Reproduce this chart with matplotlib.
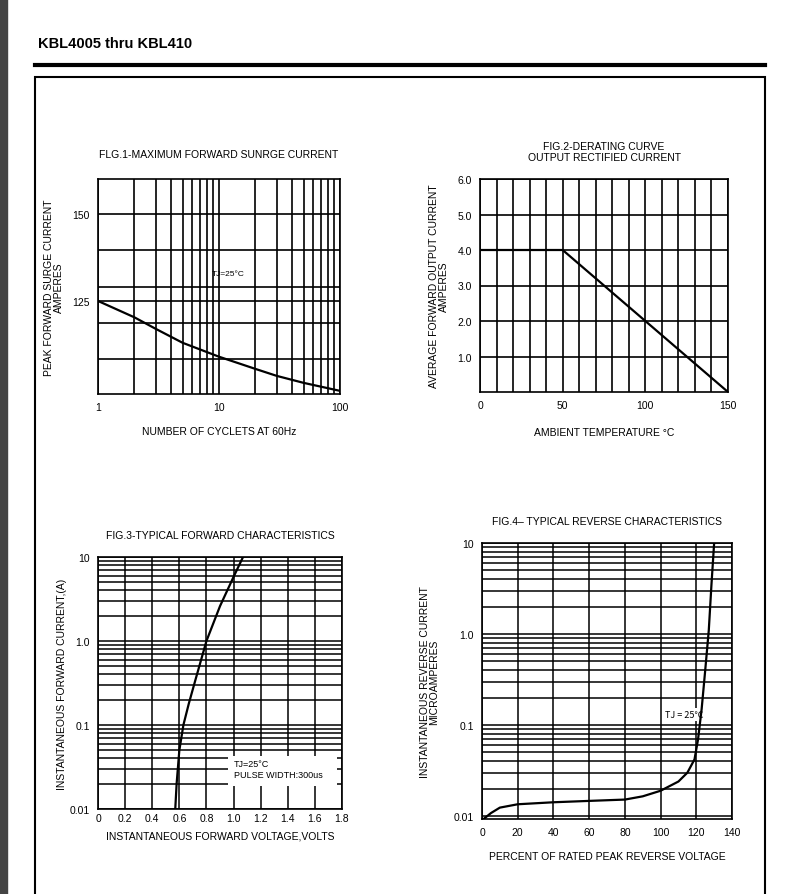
import numpy as np
import matplotlib.pyplot as plt
from matplotlib.patches import Rectangle

W, H = 794, 895

# FIG.1 surge current
f1_cycles = [1, 2, 3, 5, 10, 20, 30, 50, 100]
f1_amps = [125, 120.3, 117, 113, 109, 105.5, 103.5, 101.5, 99.2]
f1_hgrid = [108.4, 118.7, 129.0, 139.7, 150]

# FIG.2 derating
f2_temp = [0, 50, 150]
f2_amps = [4.0, 4.0, 0.0]

# FIG.3 forward characteristics
f3_volts = [0.57, 0.58, 0.60, 0.63, 0.67, 0.72, 0.80, 0.90, 1.00, 1.07]
f3_amps = [0.01, 0.02, 0.05, 0.10, 0.18, 0.35, 1.0, 2.6, 5.8, 10]

# FIG.4 reverse characteristics
f4_pct = [0, 5, 10, 20, 40, 60, 80, 90, 100, 110, 115, 119, 121, 123, 125, 127, 128.5, 130]
f4_ua = [0.009, 0.0108, 0.0124, 0.0135, 0.0142, 0.0147, 0.0152, 0.0165, 0.019, 0.024, 0.03, 0.042, 0.07, 0.15, 0.4, 1.1, 3.5, 10]

fs = 7.5
plt.rcParams['font.family'] = ['Liberation Sans', 'DejaVu Sans']

fig = plt.figure(figsize=(W / 100, H / 100), dpi=100)


def ax_px(x0, y0, x1, y1):
    return fig.add_axes([x0 / W, 1 - y1 / H, (x1 - x0) / W, (y1 - y0) / H])


def style(ax):
    for s in ax.spines.values():
        s.set_linewidth(1.2)
    ax.tick_params(length=0, labelsize=fs, pad=6)


# page frame
fig.text(38 / W, 1 - 44 / H, "KBL4005 thru KBL410", fontsize=10.5, weight='bold', va='center')
fig.add_artist(plt.Line2D([35 / W, 765 / W], [1 - 66 / H, 1 - 66 / H], color='black', lw=3))
fig.add_artist(Rectangle((35 / W, -0.01), 730 / W, 1 - 78 / H + 0.01, fill=False, lw=1.5,
                         transform=fig.transFigure))
fig.add_artist(Rectangle((0, 0), 7 / W, 1, color='#444444', transform=fig.transFigure))

# FIG.1
ax1 = ax_px(98, 180, 340, 395)
ax1.set_xscale('log')
ax1.set_xlim(1, 100)
ax1.set_ylim(98.3, 160)
ax1.set_xticks([1, 10, 100])
ax1.set_xticklabels(['1', '10', '100'])
ax1.xaxis.set_minor_locator(plt.LogLocator(subs=np.arange(2, 10)))
ax1.xaxis.set_minor_formatter(plt.NullFormatter())
ax1.set_yticks([125, 150])
ax1.set_yticks(f1_hgrid, minor=True)
ax1.grid(True, which='both', color='black', lw=1.2)
ax1.tick_params(which='minor', length=0)
ax1.plot(f1_cycles, f1_amps, color='black', lw=1.6)
ax1.text(12, 133, "TJ=25°C", fontsize=6, ha='center', va='center')
ax1.set_title("FLG.1-MAXIMUM FORWARD SUNRGE CURRENT", fontsize=fs, pad=16)
ax1.set_xlabel("NUMBER OF CYCLETS AT 60Hz", fontsize=fs, labelpad=10)
ax1.set_ylabel("PEAK FORWARD SURGE CURRENT\nAMPERES", fontsize=fs, labelpad=6, linespacing=1.0)
style(ax1)

# FIG.2
ax2 = ax_px(480, 180, 728, 393)
ax2.set_xlim(0, 150)
ax2.set_ylim(0, 6)
ax2.set_xticks([0, 50, 100, 150])
ax2.set_xticks(np.arange(0, 151, 10), minor=True)
ax2.set_yticks([1, 2, 3, 4, 5, 6])
ax2.set_yticklabels(['1.0', '2.0', '3.0', '4.0', '5.0', '6.0'])
ax2.grid(True, which='both', color='black', lw=1.2)
ax2.tick_params(which='minor', length=0)
ax2.plot(f2_temp, f2_amps, color='black', lw=1.6)
ax2.set_title("FIG.2-DERATING CURVE\nOUTPUT RECTIFIED CURRENT", fontsize=fs, pad=14, linespacing=1.1)
ax2.set_xlabel("AMBIENT TEMPERATURE °C", fontsize=fs, labelpad=12)
ax2.set_ylabel("AVERAGE FORWARD OUTPUT CURRENT\nAMPERES", fontsize=fs, labelpad=6, linespacing=1.0)
style(ax2)

# FIG.3
ax3 = ax_px(98, 558, 342, 810)
ax3.set_yscale('log')
ax3.set_xlim(0, 1.8)
ax3.set_ylim(0.01, 10)
ax3.set_xticks(np.arange(0, 1.81, 0.2))
ax3.set_xticklabels(['0', '0.2', '0.4', '0.6', '0.8', '1.0', '1.2', '1.4', '1.6', '1.8'])
ax3.set_yticks([0.01, 0.1, 1, 10])
ax3.set_yticklabels(['0.01', '0.1', '1.0', '10'])
ax3.yaxis.set_minor_locator(plt.LogLocator(subs=np.arange(2, 10)))
ax3.yaxis.set_minor_formatter(plt.NullFormatter())
ax3.grid(True, which='both', color='black', lw=1.1)
ax3.tick_params(which='minor', length=0)
ax3.add_patch(Rectangle((0.96, 0.019), 0.8, 0.024, facecolor='white', edgecolor='none', zorder=2.5))
ax3.text(1.0, 0.03, "TJ=25°C\nPULSE WIDTH:300us", fontsize=6.5, va='center', zorder=3)
ax3.plot(f3_volts, f3_amps, color='black', lw=1.6, zorder=4)
ax3.set_title("FIG.3-TYPICAL FORWARD CHARACTERISTICS", fontsize=fs, pad=14)
ax3.set_xlabel("INSTANTANEOUS FORWARD VOLTAGE,VOLTS", fontsize=fs, labelpad=5)
ax3.set_ylabel("INSTANTANEOUS FORWARD CURRENT,(A)", fontsize=fs, labelpad=2)
style(ax3)
ax3.tick_params(axis='x', pad=3)

# FIG.4
ax4 = ax_px(482, 544, 732, 820)
ax4.set_yscale('log')
ax4.set_xlim(0, 140)
ax4.set_ylim(0.0093, 10)
ax4.set_xticks(np.arange(0, 141, 20))
ax4.set_yticks([0.01, 0.1, 1, 10])
ax4.set_yticklabels(['0.01', '0.1', '1.0', '10'])
ax4.yaxis.set_minor_locator(plt.LogLocator(subs=np.arange(2, 10)))
ax4.yaxis.set_minor_formatter(plt.NullFormatter())
ax4.grid(True, which='both', color='black', lw=1.1)
ax4.tick_params(which='minor', length=0)
ax4.text(113, 0.13, "TJ = 25℃", fontsize=6.5, ha='center', va='center', zorder=3,
         family=['Noto Sans CJK SC', 'DejaVu Sans'],
         bbox=dict(facecolor='white', edgecolor='none', pad=1.5))
ax4.plot(f4_pct, f4_ua, color='black', lw=1.6, zorder=4)
ax4.set_title("FIG.4– TYPICAL REVERSE CHARACTERISTICS", fontsize=fs, pad=14)
ax4.set_xlabel("PERCENT OF RATED PEAK REVERSE VOLTAGE", fontsize=fs, labelpad=10)
ax4.set_ylabel("INSTANTANEOUS REVERSE CURRENT\nMICROAMPERES", fontsize=fs, labelpad=10, linespacing=1.0)
style(ax4)

fig.savefig("out.png", dpi=100)
